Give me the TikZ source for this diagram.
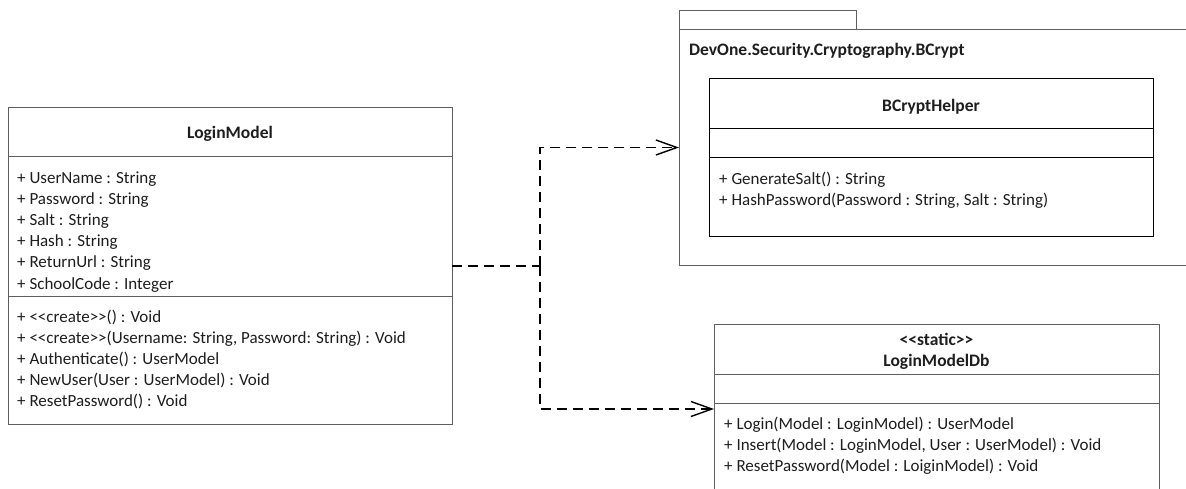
\documentclass[tikz,border=0pt]{standalone}
\usepackage{fontspec}
\setmainfont{Carlito}
\usetikzlibrary{arrows.meta}
\definecolor{frame}{RGB}{95,95,95}
\definecolor{ink}{RGB}{30,30,30}
\newcommand\stereo[1]{<{}<#1>{}>}
\begin{document}
\begin{tikzpicture}[x=1pt,y=-1pt,
  box/.style={draw=frame, line width=1pt, anchor=north west, inner sep=0pt, outer sep=0pt, fill=white},
  sep/.style={draw=frame, line width=1pt},
  txt/.style={anchor=base west, inner sep=0pt, text=ink, font=\fontsize{17}{19}\selectfont},
  ttl/.style={anchor=base, inner sep=0pt, text=ink, font=\fontsize{17.5}{19}\selectfont\bfseries},
  dep/.style={draw=black, line width=1.9pt, dash pattern=on 10pt off 6pt,
    -{Straight Barb[length=21pt, width=15pt, line width=1.4pt]}},
  deptrunk/.style={draw=black, line width=1.9pt, dash pattern=on 10pt off 6pt}]
\useasboundingbox (0,0) rectangle (1186,489);
\clip (0,0) rectangle (1186,489);

% ---- class LoginModel ----
\node[box, minimum width=444pt, minimum height=316pt] (lm) at (8,108) {};
\draw[sep] (8,157) -- (452,157);
\draw[sep] (8,296) -- (452,296);
\node[ttl] (lmT) at (230,139) {LoginModel};
\foreach \t [count=\i] in {{+ UserName : String}, {+ Password : String}, {+ Salt : String},
    {+ Hash : String}, {+ ReturnUrl : String}, {+ SchoolCode : Integer}}
  \node[txt] (lmA\i) at (17,{183.5+21.1*(\i-1)}) {\t};
\foreach \t [count=\i] in {{+ \stereo{create}() : Void},
    {+ \stereo{create}(Username: String, Password: String) : Void},
    {+ Authenticate() : UserModel}, {+ NewUser(User : UserModel) : Void},
    {+ ResetPassword() : Void}}
  \node[txt] (lmM\i) at (17,{322.5+20.9*(\i-1)}) {\t};

% ---- package DevOne.Security.Cryptography.BCrypt ----
\node[box, minimum width=177pt, minimum height=19pt] (pkgtab) at (679,11) {};
\node[box, minimum width=521pt, minimum height=235pt] (pkg) at (679,30) {};
\node[txt, font=\fontsize{17.5}{19}\selectfont\bfseries] (pkgT) at (689,56) {DevOne.Security.Cryptography.BCrypt};

% ---- class BCryptHelper ----
\node[box, draw=black, minimum width=444pt, minimum height=158pt] (bh) at (709,79) {};
\draw[sep, draw=black] (709,129) -- (1153,129);
\draw[sep, draw=black] (709,158) -- (1153,158);
\node[ttl] (bhT) at (931,112) {BCryptHelper};
\node[txt] (bhM1) at (719,184.5) {+ GenerateSalt() : String};
\node[txt] (bhM2) at (719,205.5) {+ HashPassword(Password : String, Salt : String)};

% ---- class LoginModelDb ----
\node[box, minimum width=445pt, minimum height=170pt] (db) at (714,324) {};
\draw[sep] (714,374) -- (1159,374);
\draw[sep] (714,403) -- (1159,403);
\node[ttl] (dbS) at (936.5,345) {\stereo{static}};
\node[ttl] (dbT) at (936.5,366.5) {LoginModelDb};
\node[txt] (dbM1) at (724,429.5) {+ Login(Model : LoginModel) : UserModel};
\node[txt] (dbM2) at (724,450.5) {+ Insert(Model : LoginModel, User : UserModel) : Void};
\node[txt] (dbM3) at (724,471) {+ ResetPassword(Model : LoiginModel) : Void};

% ---- dependencies ----
\coordinate (j) at (540,266);
\draw[deptrunk] (lm.east) -- (j);
\draw[dep] (j) |- (pkg.west);
\draw[dep] (j) |- (db.west);
\end{tikzpicture}
\end{document}
